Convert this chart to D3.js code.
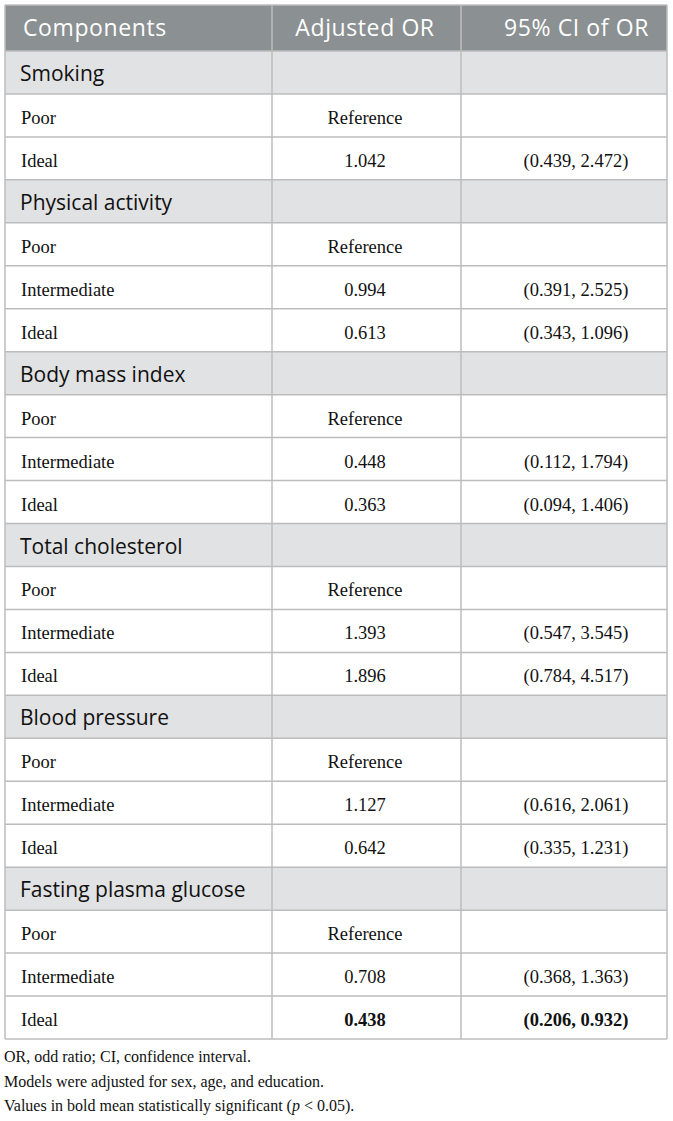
<!DOCTYPE html>
<html>
<head>
<meta charset="utf-8">
<script src="https://cdn.jsdelivr.net/npm/d3@7"></script>
<style>
  html, body { margin: 0; padding: 0; background: #fff; }
  svg { display: block; }
</style>
</head>
<body>
<svg id="chart" width="673" height="1121"></svg>
<script>
// Table content
const headers = ["Components", "Adjusted OR", "95% CI of OR"];
const groups = ["Smoking", "Physical activity", "Body mass index", "Total cholesterol", "Blood pressure", "Fasting plasma glucose"];
const levels = [
  ["Poor", "Ideal"],
  ["Poor", "Intermediate", "Ideal"],
  ["Poor", "Intermediate", "Ideal"],
  ["Poor", "Intermediate", "Ideal"],
  ["Poor", "Intermediate", "Ideal"],
  ["Poor", "Intermediate", "Ideal"]
];
// null = reference category
const oddsRatios = [
  [null, 1.042],
  [null, 0.994, 0.613],
  [null, 0.448, 0.363],
  [null, 1.393, 1.896],
  [null, 1.127, 0.642],
  [null, 0.708, 0.438]
];
const ciLower = [
  [null, 0.439],
  [null, 0.391, 0.343],
  [null, 0.112, 0.094],
  [null, 0.547, 0.784],
  [null, 0.616, 0.335],
  [null, 0.368, 0.206]
];
const ciUpper = [
  [null, 2.472],
  [null, 2.525, 1.096],
  [null, 1.794, 1.406],
  [null, 3.545, 4.517],
  [null, 2.061, 1.231],
  [null, 1.363, 0.932]
];
const footnotes = [
  "OR, odd ratio; CI, confidence interval.",
  "Models were adjusted for sex, age, and education."
];

// Flatten into table rows
const rows = [];
groups.forEach((g, gi) => {
  rows.push({ type: "group", label: g });
  levels[gi].forEach((lv, li) => {
    const or = oddsRatios[gi][li];
    const lo = ciLower[gi][li], hi = ciUpper[gi][li];
    rows.push({
      type: "level",
      label: lv,
      or: or,
      lo: lo,
      hi: hi,
      // significant when the whole interval is below or above 1
      bold: lo != null && (hi < 1 || lo > 1)
    });
  });
});

const fmt = d3.format(".3f");
const svg = d3.select("#chart");

const left = 5, right = 667;
const colEdges = [left, 272, 461, right];
const headTop = 5, headBottom = 51;

const y = d3.scaleBand()
  .domain(d3.range(rows.length))
  .range([headBottom, 1039])
  .paddingInner(0)
  .paddingOuter(0);

const sans = "'Open Sans', 'Noto Sans', sans-serif";
const serif = "'Liberation Serif', 'DejaVu Serif', serif";
const lineColor = "#bcbcbc";

// Header band
svg.append("rect")
  .attr("x", left).attr("y", headTop)
  .attr("width", right - left).attr("height", headBottom - headTop)
  .attr("fill", "#8b9092");

// Group bands
svg.append("g").selectAll("rect")
  .data(rows.map((r, i) => ({ r, i })).filter(d => d.r.type === "group"))
  .join("rect")
  .attr("x", left)
  .attr("y", d => y(d.i))
  .attr("width", right - left)
  .attr("height", y.bandwidth())
  .attr("fill", "#e1e2e3");

// Grid lines
const grid = svg.append("g").attr("stroke", lineColor).attr("stroke-width", 1.5);
const hLines = [headTop, headBottom].concat(d3.range(rows.length).map(i => y(i) + y.bandwidth()));
grid.selectAll("line.h")
  .data(hLines)
  .join("line")
  .attr("class", "h")
  .attr("x1", left).attr("x2", right)
  .attr("y1", d => d).attr("y2", d => d);
grid.selectAll("line.v")
  .data(colEdges)
  .join("line")
  .attr("class", "v")
  .attr("x1", d => d).attr("x2", d => d)
  .attr("y1", headTop).attr("y2", y(rows.length - 1) + y.bandwidth());

// Header text
const headX = [23, 365, 649];
const headAnchor = ["start", "middle", "end"];
svg.append("g").selectAll("text")
  .data(headers)
  .join("text")
  .attr("x", (d, i) => headX[i])
  .attr("y", 36)
  .attr("text-anchor", (d, i) => headAnchor[i])
  .attr("font-family", sans)
  .attr("font-size", 23)
  .attr("letter-spacing", 0.6)
  .attr("fill", "#ffffff")
  .text(d => d);

// Body text
const body = svg.append("g");
rows.forEach((r, i) => {
  const base = y(i) + 30;
  if (r.type === "group") {
    body.append("text")
      .attr("x", 20).attr("y", base)
      .attr("font-family", sans)
      .attr("font-size", 21)
      .attr("fill", "#111")
      .text(r.label);
    return;
  }
  body.append("text")
    .attr("x", 21).attr("y", base)
    .attr("font-family", serif)
    .attr("font-size", 18.5)
    .attr("fill", "#111")
    .text(r.label);
  body.append("text")
    .attr("x", 365).attr("y", base)
    .attr("text-anchor", "middle")
    .attr("font-family", serif)
    .attr("font-size", 18.5)
    .attr("font-weight", r.bold ? "bold" : "normal")
    .attr("fill", "#111")
    .text(r.or == null ? "Reference" : fmt(r.or));
  if (r.lo != null) {
    body.append("text")
      .attr("x", 576).attr("y", base)
      .attr("text-anchor", "middle")
      .attr("font-family", serif)
      .attr("font-size", 18.5)
      .attr("font-weight", r.bold ? "bold" : "normal")
      .attr("fill", "#111")
      .text(`(${fmt(r.lo)}, ${fmt(r.hi)})`);
  }
});

// Footnotes
const notes = svg.append("g")
  .attr("font-family", serif)
  .attr("font-size", 16)
  .attr("fill", "#111");
footnotes.forEach((t, i) => {
  notes.append("text").attr("x", 4).attr("y", 1062 + i * 24.5).text(t);
});
const last = notes.append("text").attr("x", 4).attr("y", 1111);
last.append("tspan").text("Values in bold mean statistically significant (");
last.append("tspan").attr("font-style", "italic").text("p");
last.append("tspan").text(" < 0.05).");
</script>
</body>
</html>
